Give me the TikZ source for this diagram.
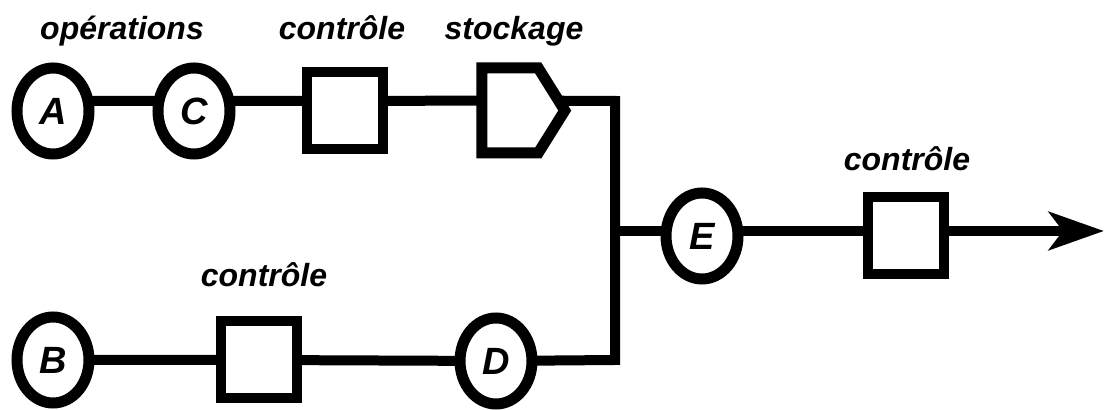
\documentclass[tikz,border=0pt]{standalone}
\usepackage{fontspec}
\setmainfont{Liberation Sans}
\usetikzlibrary{arrows.meta,shapes.geometric,shapes.symbols,backgrounds}

\begin{document}
\begin{tikzpicture}[
  x=0.5pt, y=-0.5pt,
  op/.style={draw, ellipse, line width=5.5pt, fill=white, inner sep=0pt,
    minimum width=36pt, minimum height=43pt,
    font=\fontsize{19}{19}\selectfont\bfseries\itshape},
  ctrl/.style={draw, rectangle, line width=5pt, fill=white, inner sep=0pt,
    minimum width=38pt, minimum height=38.5pt},
  stock/.style={draw, signal, signal to=east, signal from=nowhere,
    signal pointer angle=116, line width=5.5pt, fill=white, inner sep=0pt,
    minimum width=41.5pt, minimum height=42.5pt},
  lbl/.style={anchor=base, font=\fontsize{16}{16}\selectfont\bfseries\itshape},
  wire/.style={line width=5pt}
]
  \useasboundingbox (0,0) rectangle (1104,410);

  % upper branch
  \node[op] (A) at (53,111) {A};
  \node[op] (C) at (194,111) {C};
  \node[ctrl] (ctlA) at (345,111) {};
  \node[stock] (stock) at (510,110.5) {};

  % lower branch
  \node[op] (B) at (53,360) {B};
  \node[ctrl] (ctlB) at (259,360) {};
  \node[op] (D) at (496,361) {D};

  % merged output
  \node[op] (E) at (702,236) {E};
  \node[ctrl] (ctlE) at (906,236) {};

  \coordinate (jtop) at (615,101);
  \coordinate (jmid) at (615,231);
  \coordinate (jbot) at (615,360);
  \coordinate (out) at (1104,231);

  \node[lbl] (lops) at (122,40) {opérations};
  \node[lbl] (lctlA) at (342,40) {contrôle};
  \node[lbl] (lstock) at (514,40) {stockage};
  \node[lbl] (lctlB) at (264,287) {contrôle};
  \node[lbl] (lctlE) at (907,171) {contrôle};

  \begin{scope}[on background layer]
    \draw[wire] ([yshift=5pt]A.center) -- ([yshift=5pt]C.center)
      -- ([yshift=5pt]ctlA.center) -- ([yshift=5pt]stock.center)
      -- (jtop) -- (jbot) -- (D.center) -- (ctlB.center) -- (B.center);
    \draw[wire] (jmid) -- (jmid -| E.center) -- (jmid -| ctlE.center);
  \end{scope}
  \draw[wire, -{Stealth[length=27.5pt, width=19pt, inset=7pt]}]
    (ctlE.east |- jmid) -- (out);
\end{tikzpicture}
\end{document}
